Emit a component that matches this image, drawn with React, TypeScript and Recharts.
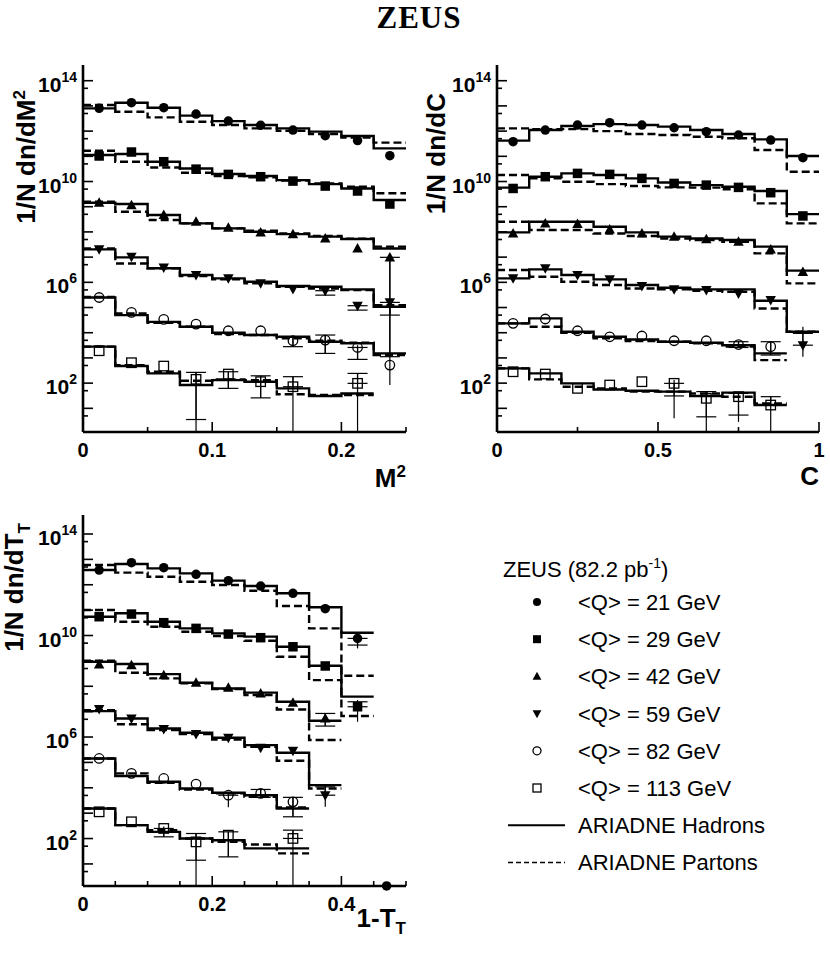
import React from 'react';
import { ComposedChart, Line, Scatter, XAxis, YAxis, ErrorBar } from 'recharts';

const FONT = '"Liberation Sans", Arial, Helvetica, sans-serif';

const Q_LABELS = ['<Q> = 21 GeV', '<Q> = 29 GeV', '<Q> = 42 GeV', '<Q> = 59 GeV', '<Q> = 82 GeV', '<Q> = 113 GeV'];

// log axis ticks (long at decades, short at 5 x 10^n)
const Y_MAJOR = [1e1, 1e2, 1e3, 1e4, 1e5, 1e6, 1e7, 1e8, 1e9, 1e10, 1e11, 1e12, 1e13, 1e14];
const Y_MINOR = [5, 5e1, 5e2, 5e3, 5e4, 5e5, 5e6, 5e7, 5e8, 5e9, 5e10, 5e11, 5e12, 5e13];
const Y_LABELS = [1e2, 1e6, 1e10, 1e14];
const Y_LABEL_EXP = ['2', '6', '10', '14'];

// error rows: [series, bin, low end, high end, low cap, high cap]
type Err = [number, number, number, number, number | null, number | null];

// ---- M^2 ----
const M2_EDGES = [0, 0.025, 0.05, 0.075, 0.1, 0.125, 0.15, 0.175, 0.2, 0.225, 0.25];
const M2_TICKS = [0, 0.05, 0.1, 0.15, 0.2, 0.25];
const M2_LABELS = [0, 0.1, 0.2];
const M2_DATA = [
  [8.0e12, 1.34e13, 8.5e12, 4.75e12, 2.5e12, 1.69e12, 1.1e12, 6.6e11, 4.2e11, 1.06e11],
  [1.03e11, 1.48e11, 6.1e10, 3.1e10, 1.92e10, 1.55e10, 1.04e10, 6.6e9, 4.2e9, 1.28e9],
  [1.44e9, 1.16e9, 4.7e8, 2.54e8, 1.47e8, 9.6e7, 8.2e7, 5.5e7, 2.2e7, 9.8e6],
  [2.03e7, 1.04e7, 3.9e6, 1.94e6, 1.43e6, 9.1e5, 5.4e5, 4.65e5, 1.18e5, 1.6e5],
  [2.5e5, 6.4e4, 3.4e4, 2.2e4, 1.2e4, 1.2e4, 4.8e3, 5.1e3, 2.6e3, 520],
  [1.93e3, 645, 475, 141, 229, 114, 72, null, 98],
];
const M2_HADRONS = [
  [8.0e12, 1.34e13, 8.5e12, 4.1e12, 2.5e12, 1.74e12, 1.28e12, 9.5e11, 6.4e11, 2.07e11],
  [1.12e11, 1.23e11, 6.1e10, 3.3e10, 1.98e10, 1.65e10, 1.14e10, 7.9e9, 5.3e9, 1.84e9],
  [1.44e9, 1.28e9, 4.7e8, 2.18e8, 1.38e8, 1.02e8, 8.2e7, 6.5e7, 5.2e7, 2.2e7],
  [2.03e7, 9.8e6, 3.6e6, 1.94e6, 1.43e6, 1.06e6, 7.1e5, 6.7e5, 5.25e5, 1.08e5],
  [2.5e5, 5.0e4, 2.7e4, 1.73e4, 1.0e4, 8.1e3, 6.9e3, 4.4e3, 3.8e3, 1.51e3],
  [2.8e3, 475, 243, 84, 132, 114, 62, 31, 39],
];
const M2_PARTONS = [
  [1.08e13, 5.9e12, 3.5e12, 2.36e12, 1.74e12, 1.28e12, 1.04e12, 7.7e11, 5.6e11, 3.5e11],
  [1.67e11, 6.1e10, 3.6e10, 2.23e10, 1.65e10, 1.46e10, 1.08e10, 8.4e9, 6.2e9, 3.4e9],
  [1.58e9, 6.3e8, 2.96e8, 2.18e8, 1.38e8, 1.12e8, 8.7e7, 6.9e7, 5.4e7, 2.6e7],
  [2.2e7, 5.6e6, 3.6e6, 1.77e6, 1.31e6, 9.1e5, 6.7e5, 5.7e5, 4.9e5, 1.25e5],
  [2.6e5, 5.8e4, 2.5e4, 1.73e4, 8.9e3, 8.1e3, 6.0e3, 4.8e3, 4.0e3, 1.3e3],
  [2.8e3, 520, 283, 125, 141, 132, 36, 34, 34],
];
const M2_ERRORS: Err[] = [
  [2, 9, 84, 1.2e7, 1.12e3, null],
  [3, 7, 3.1e5, 5.4e5, 3.1e5, null],
  [3, 8, 7.9e4, 1.6e5, 7.9e4, null],
  [3, 9, 5.0e4, 2.2e5, 5.0e4, null],
  [4, 6, 2.8e3, 6.9e3, 2.8e3, 6.9e3],
  [4, 7, 1.51e3, 8.1e3, 1.51e3, 8.1e3],
  [4, 8, 875, 3.2e3, 875, null],
  [5, 3, 1.2, 267, 3.6, 267],
  [5, 4, 62, 283, 62, 283],
  [5, 5, 26, 195, 26, 195],
  [5, 6, 1.2, 180, null, 180],
  [5, 8, 1.2, 243, null, 243],
];

// ---- C ----
const C_EDGES = [0, 0.1, 0.2, 0.3, 0.4, 0.5, 0.6, 0.7, 0.8, 0.9, 1];
const C_TICKS = [0, 0.25, 0.5, 0.75, 1];
const C_LABELS = [0, 0.5, 1];
const C_DATA = [
  [3.8e11, 1.1e12, 1.74e12, 2.15e12, 1.74e12, 1.36e12, 9.5e11, 7.0e11, 4.4e11, 8.8e10],
  [5.3e9, 1.55e10, 2.1e10, 1.92e10, 1.33e10, 8.4e9, 7.2e9, 5.85e9, 3.6e9, 4.3e8],
  [8.7e7, 2.18e8, 2.05e8, 1.26e8, 8.7e7, 6.5e7, 5.1e7, 4.1e7, 2.03e7, 2.6e6],
  [1.43e6, 3.6e6, 1.94e6, 1.31e6, 7.1e5, 5.25e5, 4.9e5, 3.6e5, 1.98e5, 3.2e3],
  [2.35e4, 3.5e4, 1.2e4, 6.9e3, 7.4e3, 4.8e3, 4.8e3, 3.4e3, 2.8e3],
  [283, 229, 62, 84, 114, 98, 25, 29, 13.5],
];
const C_HADRONS = [
  [4.2e11, 1.1e12, 1.59e12, 1.9e12, 1.74e12, 1.5e12, 1.1e12, 7.7e11, 4.7e11, 1.03e11],
  [5.7e9, 1.55e10, 2.1e10, 1.81e10, 1.33e10, 9.2e9, 7.2e9, 6.2e9, 4.2e9, 5.1e8],
  [9.6e7, 2.54e8, 2.54e8, 1.61e8, 9.6e7, 6.5e7, 5.5e7, 4.75e7, 2.6e7, 2.9e6],
  [1.43e6, 3.26e6, 1.94e6, 1.31e6, 7.8e5, 6.1e5, 5.25e5, 5.25e5, 1.86e5, 1.1e4],
  [2.35e4, 3.7e4, 1.1e4, 6.9e3, 5.4e3, 4.4e3, 4.0e3, 3.2e3, 1.51e3],
  [385, 243, 98, 56, 50, 46, 31, 42, 13.5],
];
const C_PARTONS = [
  [1.28e12, 1.2e12, 1.2e12, 1.0e12, 7.7e11, 7.0e11, 6.0e11, 5.2e11, 1.77e11, 2.45e10],
  [1.81e10, 1.33e10, 9.8e9, 7.9e9, 6.6e9, 5.85e9, 5.7e9, 4.9e9, 1.36e9, 2.18e8],
  [2.54e8, 1.19e8, 1.19e8, 8.7e7, 6.9e7, 5.5e7, 4.75e7, 4.1e7, 1.41e7, 9.1e5],
  [3.07e6, 1.67e6, 1.06e6, 7.8e5, 5.7e5, 5.25e5, 4.65e5, 4.2e5, 9.2e4, 1.1e4],
  [2.35e4, 1.73e4, 1.0e4, 6.0e3, 4.7e3, 4.4e3, 3.8e3, 2.8e3, 820],
  [385, 141, 72, 62, 46, 46, 39, 29, 15.7],
];
const C_ERRORS: Err[] = [
  [3, 9, 1.12e3, 1.73e4, null, 9.4e3],
  [4, 7, 2.6e3, 4.4e3, 2.6e3, 4.4e3],
  [4, 8, 1.3e3, 4.4e3, 1.3e3, 4.4e3],
  [5, 5, 4.0, 132, 31, null],
  [5, 6, 1.2, 46, 4.6, 46],
  [5, 7, 2.9, 39, 5.4, 39],
  [5, 8, 1.2, 29, null, 29],
];

// ---- 1-T_T ----
const T_EDGES = [0, 0.05, 0.1, 0.15, 0.2, 0.25, 0.3, 0.35, 0.4, 0.45];
const T_TICKS = [0, 0.05, 0.1, 0.15, 0.2, 0.25, 0.3, 0.35, 0.4, 0.45, 0.5];
const T_LABELS = [0, 0.2, 0.4];
const T_DATA = [
  [3.8e12, 7.4e12, 4.7e12, 2.57e12, 1.45e12, 8.9e11, 4.6e11, 1.14e11, 7.7e9],
  [5.5e10, 7.0e10, 3.2e10, 1.91e10, 1.14e10, 8.2e9, 3.6e9, 6.3e8, 1.56e7],
  [7.3e8, 6.7e8, 2.7e8, 1.38e8, 8.7e7, 5.2e7, 2.24e7, 5.4e6],
  [1.26e7, 5.4e6, 2.06e6, 1.31e6, 9.4e5, 3.8e5, 2.9e5, 5.1e3],
  [1.43e5, 3.7e4, 2.33e4, 1.4e4, 5.1e3, 6.0e3, 2.8e3],
  [1.13e3, 457, 250, 74, 136, null, 101],
];
const T_HADRONS = [
  [3.8e12, 6.6e12, 4.4e12, 2.8e12, 1.45e12, 8.9e11, 4.6e11, 1.29e11, 1.29e10],
  [5.5e10, 7.5e10, 3.5e10, 1.91e10, 1.21e10, 9.0e9, 3.6e9, 6.4e8, 3.9e7],
  [9.3e8, 7.5e8, 3.0e8, 1.38e8, 8.2e7, 5.6e7, 2.45e7, 4.4e6],
  [1.05e7, 5.4e6, 2.18e6, 1.47e6, 9.4e5, 4.8e5, 2.4e5, 1.27e4],
  [1.43e5, 2.9e4, 1.73e4, 9.4e3, 6.4e3, 5.1e3, 1.53e3],
  [1.53e3, 337, 184, 101, 86, 41, 41],
];
const T_PARTONS = [
  [6.0e12, 3.0e12, 2.08e12, 1.32e12, 9.8e11, 5.8e11, 1.45e11, 1.91e10, 2.6e8],
  [1.01e11, 3.5e10, 2.22e10, 1.41e10, 9.5e9, 6.2e9, 1.46e9, 1.75e8, 6.7e6],
  [1.02e9, 3.4e8, 2.04e8, 1.3e8, 7.8e7, 4.5e7, 1.22e7, 7.6e5],
  [1.15e7, 3.2e6, 1.88e6, 1.31e6, 8.0e5, 4.1e5, 1.16e5, 9.4e3],
  [1.43e5, 3.7e4, 1.57e4, 8.6e3, 6.0e3, 4.4e3, 1.68e3],
  [1.53e3, 337, 214, 101, 74, 58, 26],
];
const T_ERRORS: Err[] = [
  [0, 8, 3.1e9, 1.14e10, 4.2e9, null],
  [1, 8, 4.0e6, 2.86e7, null, 2.45e7],
  [2, 7, 2.7e6, 8.5e6, 2.7e6, 8.5e6],
  [3, 7, 1.78e3, 1.4e4, null, 1.09e4],
  [4, 4, 1.7e3, 6.4e3, null, 6.4e3],
  [4, 5, 4.2e3, 8.6e3, 4.2e3, 8.6e3],
  [4, 6, 720, 4.2e3, 720, 4.2e3],
  [5, 2, 117, 300, 117, null],
  [5, 3, 1.4, 158, 14, 158],
  [5, 4, 19, 184, 19, 184],
  [5, 6, 1.4, 214, null, 214],
];
// one 21 GeV point sitting on the lower frame
const T_STRAY = [{ x: 0.47, y: 1.36 }];

function steps(edges: number[], vals: number[]) {
  const pts = vals.map((y, k) => ({ x: edges[k], y }));
  pts.push({ x: edges[vals.length], y: vals[vals.length - 1] });
  return pts;
}

function points(edges: number[], vals: (number | null)[], errs: Err[], s: number) {
  const out: any[] = [];
  vals.forEach((y, k) => {
    if (y == null) return;
    const p: any = { x: (edges[k] + edges[k + 1]) / 2, y };
    const e = errs.find((r) => r[0] === s && r[1] === k);
    if (e) {
      p.tot = [y - e[2], e[3] - y];
      p.stat = [e[4] == null ? 0 : y - e[4], e[5] == null ? 0 : e[5] - y];
    }
    out.push(p);
  });
  return out;
}

function Marker({ kind, cx, cy, size }: { kind: number; cx: number; cy: number; size: number }) {
  const h = size / 2;
  if (cx == null || cy == null) return null;
  switch (kind) {
    case 0:
      return <circle cx={cx} cy={cy} r={h} fill="#000" />;
    case 1:
      return <rect x={cx - h} y={cy - h} width={size} height={size} fill="#000" />;
    case 2:
      return <polygon points={`${cx},${cy - h * 1.15} ${cx - h * 1.1},${cy + h * 0.85} ${cx + h * 1.1},${cy + h * 0.85}`} fill="#000" />;
    case 3:
      return <polygon points={`${cx},${cy + h * 1.15} ${cx - h * 1.1},${cy - h * 0.85} ${cx + h * 1.1},${cy - h * 0.85}`} fill="#000" />;
    case 4:
      return <circle cx={cx} cy={cy} r={h} fill="none" stroke="#000" strokeWidth={1.3} />;
    default:
      return <rect x={cx - h} y={cy - h} width={size} height={size} fill="none" stroke="#000" strokeWidth={1.3} />;
  }
}

const YTick = (props: any) => {
  const { x, y, payload, side } = props;
  const v = payload.value;
  const major = Y_MAJOR.includes(v);
  const dir = side === 'left' ? 1 : -1;
  const li = side === 'left' ? Y_LABELS.indexOf(v) : -1;
  return (
    <g>
      <line x1={x} x2={x + dir * (major ? 10 : 5)} y1={y} y2={y} stroke="#000" strokeWidth={1.6} />
      {li >= 0 && (
        <text x={x - 6} y={y + 11} textAnchor="end" fontFamily={FONT} fontWeight="bold" fontSize={21} fill="#000">
          10<tspan dy={-10} fontSize={14}>{Y_LABEL_EXP[li]}</tspan>
        </text>
      )}
    </g>
  );
};

const XTick = (props: any) => {
  const { x, y, payload, side, labels } = props;
  const v = payload.value;
  const major = labels.includes(v);
  const dir = side === 'bottom' ? -1 : 1;
  return (
    <g>
      <line x1={x} x2={x} y1={y} y2={y + dir * (major ? 10 : 5)} stroke="#000" strokeWidth={1.6} />
      {side === 'bottom' && major && (
        <text x={x} y={y + 25} textAnchor="middle" fontFamily={FONT} fontWeight="bold" fontSize={20} fill="#000">
          {String(v)}
        </text>
      )}
    </g>
  );
};

const AXIS_LINE = { stroke: '#000', strokeWidth: 2.6 };

type PanelProps = {
  left: number; top: number; width: number; height: number; right: number; xHeight: number;
  xDomain: [number, number]; yDomain: [number, number];
  edges: number[]; data: (number | null)[][]; hadrons: number[][]; partons: number[][]; errors: Err[];
  xTicks: number[]; xLabels: number[];
  yTitle: (vb: any) => React.ReactNode; xTitle: (vb: any) => React.ReactNode;
  stray?: { x: number; y: number }[];
};

function Panel(p: PanelProps) {
  const yTicks = [...Y_MINOR, ...Y_MAJOR].filter((t) => t > p.yDomain[0] && t < p.yDomain[1]);
  return (
    <div style={{ position: 'absolute', left: p.left, top: p.top }}>
      <ComposedChart width={p.width} height={p.height} margin={{ top: 65, right: p.right, bottom: 0, left: 0 }}>
        <XAxis
          xAxisId="b" type="number" dataKey="x" domain={p.xDomain} ticks={p.xTicks} interval={0}
          tickSize={0} tickMargin={0} tickLine={false} axisLine={AXIS_LINE} height={p.xHeight}
          tick={(t: any) => <XTick {...t} side="bottom" labels={p.xLabels} />}
          label={{ content: (l: any) => p.xTitle(l.viewBox) }}
        />
        <XAxis
          xAxisId="t" orientation="top" type="number" dataKey="x" domain={p.xDomain} ticks={p.xTicks} interval={0}
          tickSize={0} tickMargin={0} tickLine={false} axisLine={AXIS_LINE} height={0}
          tick={(t: any) => <XTick {...t} side="top" labels={p.xLabels} />}
        />
        <YAxis
          yAxisId="l" type="number" scale="log" domain={p.yDomain} ticks={yTicks} interval={0}
          tickSize={0} tickMargin={0} tickLine={false} axisLine={AXIS_LINE} width={83}
          tick={(t: any) => <YTick {...t} side="left" />}
          label={{ content: (l: any) => p.yTitle(l.viewBox) }}
        />
        <YAxis
          yAxisId="r" orientation="right" type="number" scale="log" domain={p.yDomain} ticks={yTicks} interval={0}
          tickSize={0} tickMargin={0} tickLine={false} axisLine={AXIS_LINE} width={0}
          tick={(t: any) => <YTick {...t} side="right" />}
        />
        {p.hadrons.map((vals, s) => (
          <Line key={'h' + s} xAxisId="b" yAxisId="l" data={steps(p.edges, vals)} dataKey="y" type="stepAfter"
            stroke="#000" strokeWidth={2.4} dot={false} activeDot={false} isAnimationActive={false} />
        ))}
        {p.partons.map((vals, s) => (
          <Line key={'p' + s} xAxisId="b" yAxisId="l" data={steps(p.edges, vals)} dataKey="y" type="stepAfter"
            stroke="#000" strokeWidth={2.4} strokeDasharray="8 4" dot={false} activeDot={false} isAnimationActive={false} />
        ))}
        {p.data.map((vals, s) => (
          <Scatter key={'d' + s} name={Q_LABELS[s]} xAxisId="b" yAxisId="l" data={points(p.edges, vals, p.errors, s)}
            dataKey="y" isAnimationActive={false}
            shape={(sp: any) => <Marker kind={s} cx={sp.cx} cy={sp.cy} size={9.5} />}>
            <ErrorBar dataKey="tot" direction="y" width={0} stroke="#000" strokeWidth={1.2} />
            <ErrorBar dataKey="stat" direction="y" width={10} stroke="#000" strokeWidth={1.2} />
          </Scatter>
        ))}
        {p.stray && (
          <Scatter xAxisId="b" yAxisId="l" data={p.stray} dataKey="y" isAnimationActive={false}
            shape={(sp: any) => <Marker kind={0} cx={sp.cx} cy={sp.cy} size={9.5} />} />
        )}
      </ComposedChart>
    </div>
  );
}

const TITLE_STYLE = { fontFamily: FONT, fontWeight: 'bold' as const, fontSize: 26, fill: '#000' };

function yTitle(dx: number, dy: number, main: string, extra: string, sub: boolean) {
  return (vb: any) => {
    const x = vb.x + dx;
    const y = vb.y + dy;
    return (
      <text x={x} y={y} transform={`rotate(-90 ${x} ${y})`} textAnchor="end" {...TITLE_STYLE}>
        {main}
        <tspan dy={sub ? 7 : -10} fontSize={17}>{extra}</tspan>
      </text>
    );
  };
}

function xTitle(dy: number, main: string, extra: string, sub: boolean) {
  return (vb: any) => (
    <text x={vb.x + vb.width} y={vb.y + dy} textAnchor="end" {...TITLE_STYLE}>
      {main}
      {extra && <tspan dy={sub ? 7 : -10} fontSize={17}>{extra}</tspan>}
    </text>
  );
}

function Legend() {
  const rowY = (i: number) => 62 + 37.2 * i;
  return (
    <svg width={390} height={340} style={{ position: 'absolute', left: 440, top: 540 }}>
      <text x={63} y={37} fontFamily={FONT} fontSize={22} fill="#000">
        ZEUS (82.2 pb<tspan dy={-9} fontSize={14}>-1</tspan><tspan dy={9}>)</tspan>
      </text>
      {Q_LABELS.map((lab, i) => (
        <g key={lab}>
          <Marker kind={i} cx={97} cy={rowY(i)} size={8} />
          <text x={138} y={rowY(i) + 8} fontFamily={FONT} fontSize={22} fill="#000">{lab}</text>
        </g>
      ))}
      <line x1={68} x2={125} y1={rowY(6)} y2={rowY(6)} stroke="#000" strokeWidth={2} />
      <text x={138} y={rowY(6) + 8} fontFamily={FONT} fontSize={22} fill="#000">ARIADNE Hadrons</text>
      <line x1={68} x2={125} y1={rowY(7)} y2={rowY(7)} stroke="#000" strokeWidth={1.5} strokeDasharray="5 3" />
      <text x={138} y={rowY(7) + 8} fontFamily={FONT} fontSize={22} fill="#000">ARIADNE Partons</text>
    </svg>
  );
}

export default function App() {
  return (
    <div style={{ position: 'absolute', left: 0, top: 0, width: 830, height: 956, background: '#fff' }}>
      <svg width={830} height={50} style={{ position: 'absolute', left: 0, top: 0 }}>
        <text x={419} y={28} textAnchor="middle" fontFamily='"Liberation Serif", "Times New Roman", serif'
          fontWeight="bold" fontSize={31} letterSpacing={1} fill="#000">ZEUS</text>
      </svg>
      <Panel left={0} top={0} width={420} height={500} right={14} xHeight={68}
        xDomain={[0, 0.25]} yDomain={[1.15, 4.2e14]}
        edges={M2_EDGES} data={M2_DATA} hadrons={M2_HADRONS} partons={M2_PARTONS} errors={M2_ERRORS}
        xTicks={M2_TICKS} xLabels={M2_LABELS}
        yTitle={yTitle(35, 25, '1/N dn/dM', '2', false)} xTitle={xTitle(55, 'M', '2', false)} />
      <Panel left={414} top={0} width={416} height={500} right={11} xHeight={68}
        xDomain={[0, 1]} yDomain={[1.15, 4.2e14]}
        edges={C_EDGES} data={C_DATA} hadrons={C_HADRONS} partons={C_PARTONS} errors={C_ERRORS}
        xTicks={C_TICKS} xLabels={C_LABELS}
        yTitle={yTitle(31, 28, '1/N dn/dC', '', false)} xTitle={xTitle(53, 'C', '', false)} />
      <Panel left={0} top={450} width={420} height={506} right={14} xHeight={70}
        xDomain={[0, 0.5]} yDomain={[1.35, 5.6e14]}
        edges={T_EDGES} data={T_DATA} hadrons={T_HADRONS} partons={T_PARTONS} errors={T_ERRORS}
        xTicks={T_TICKS} xLabels={T_LABELS} stray={T_STRAY}
        yTitle={yTitle(23, 8, '1/N dn/dT', 'T', true)} xTitle={xTitle(41, '1-T', 'T', true)} />
      <Legend />
    </div>
  );
}
